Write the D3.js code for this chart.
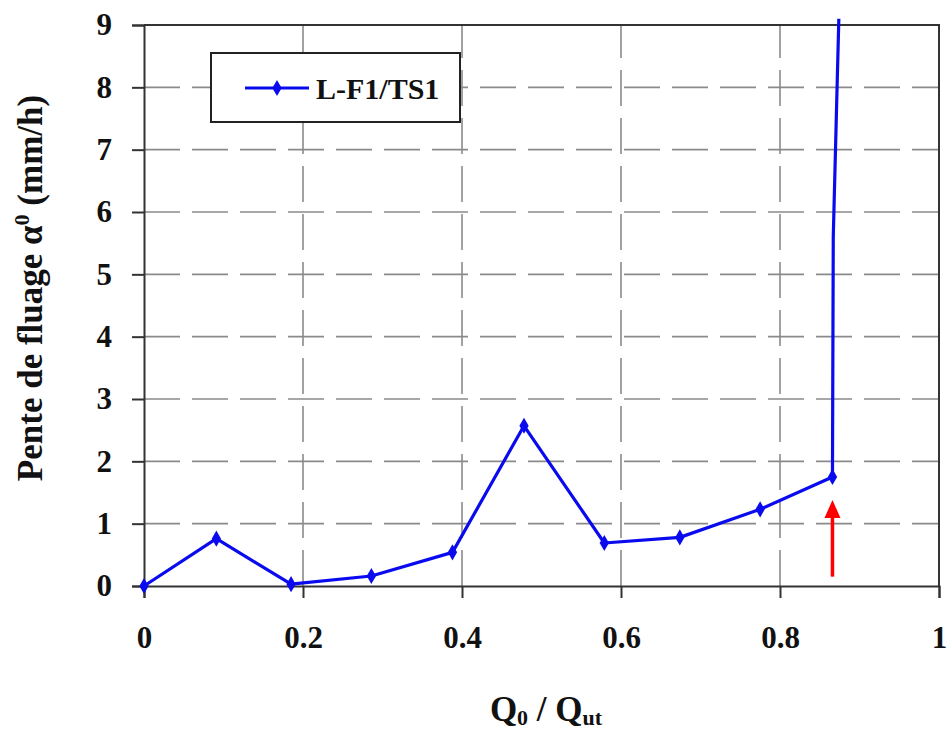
<!DOCTYPE html>
<html>
<head>
<meta charset="utf-8">
<script src="https://cdn.jsdelivr.net/npm/d3@7"></script>
<style>
  html, body { margin: 0; padding: 0; background: #fff; }
  svg { display: block; }
</style>
</head>
<body>
<svg id="chart" width="949" height="731" font-family="Liberation Serif" font-weight="bold"></svg>
<script>
// ---- data ----
const seriesName = "L-F1/TS1";
const qRatio = [0, 0.091, 0.185, 0.286, 0.388, 0.478, 0.579, 0.674, 0.775, 0.866];
const creepSlope = [0.0, 0.76, 0.03, 0.16, 0.54, 2.57, 0.69, 0.78, 1.23, 1.75];
const tailX = [0.866, 0.867, 0.871, 0.874];   // runaway branch (no markers)
const tailY = [1.75, 5.6, 7.6, 9.1];
const xTicks = [0, 0.2, 0.4, 0.6, 0.8, 1];
const yTicks = [0, 1, 2, 3, 4, 5, 6, 7, 8, 9];
const arrowX = [0.866, 0.866];
const arrowY = [0.15, 1.38];

// ---- layout ----
const FONT = "Liberation Serif";
const svg = d3.select("#chart");
const pL = 144, pR = 939, pT = 25, pB = 586;
const x = d3.scaleLinear().domain([0, 1]).range([pL, pR]);
const y = d3.scaleLinear().domain([0, 9]).range([pB, pT]);

function serif(sel, size) {
  return sel.attr("font-family", FONT).style("font-family", FONT)
    .attr("font-weight", "bold").style("font-weight", "bold")
    .style("font-size", size + "px").attr("fill", "#111");
}

// grid
const grid = svg.append("g").attr("stroke", "#8a8a8a").attr("stroke-width", 1.6)
  .attr("stroke-dasharray", "36,12");
grid.selectAll("line.h").data(yTicks.filter(d => d > 0 && d < 9)).enter().append("line")
  .attr("x1", pL).attr("x2", pR).attr("y1", d => y(d)).attr("y2", d => y(d));
grid.selectAll("line.v").data(xTicks.filter(d => d > 0 && d < 1)).enter().append("line")
  .attr("y1", pB).attr("y2", pT).attr("x1", d => x(d)).attr("x2", d => x(d));

// frame (top/right)
svg.append("path")
  .attr("d", `M${pL},${pT}H${pR}V${pB}`)
  .attr("fill", "none").attr("stroke", "#333").attr("stroke-width", 2);

// axes
const xAxis = d3.axisBottom(x).tickValues(xTicks).tickFormat(d3.format("")).tickSize(12).tickPadding(28);
const yAxis = d3.axisLeft(y).tickValues(yTicks).tickFormat(d3.format("d")).tickSize(12).tickPadding(20);
const gx = svg.append("g").attr("transform", `translate(0,${pB})`).call(xAxis);
const gy = svg.append("g").attr("transform", `translate(${pL},0)`).call(yAxis);
[gx, gy].forEach(g => {
  g.attr("font-family", FONT).attr("font-size", null);
  g.select(".domain").attr("stroke", "#333").attr("stroke-width", 2);
  g.selectAll(".tick line").attr("stroke", "#333").attr("stroke-width", 2);
  serif(g.selectAll(".tick text"), 31);
});

// series line
const line = d3.line().x(d => x(d[0])).y(d => y(d[1]));
const pts = qRatio.map((q, i) => [q, creepSlope[i]]);
const tail = tailX.map((q, i) => [q, tailY[i]]);
const blue = "#0a0aee";
svg.append("path").datum(pts.concat(tail.slice(1)))
  .attr("d", line).attr("fill", "none").attr("stroke", blue)
  .attr("stroke-width", 3.2).attr("stroke-linejoin", "round");

const diamond = d3.symbol().type(d3.symbolDiamond).size(75);
svg.selectAll("path.mk").data(pts).enter().append("path")
  .attr("transform", d => `translate(${x(d[0])},${y(d[1])})`)
  .attr("d", diamond).attr("fill", blue);

// red arrow
const ax = x(arrowX[0]), ay0 = y(arrowY[0]), ay1 = y(arrowY[1]);
svg.append("line").attr("x1", ax).attr("x2", ax).attr("y1", ay0).attr("y2", ay1 + 14)
  .attr("stroke", "#ff0000").attr("stroke-width", 3.5);
svg.append("path").attr("d", `M${ax},${ay1}L${ax - 8},${ay1 + 18}L${ax + 8},${ay1 + 18}Z`)
  .attr("fill", "#ff0000");

// legend
const lg = svg.append("g");
lg.append("rect").attr("x", 211).attr("y", 53).attr("width", 249).attr("height", 69)
  .attr("fill", "#fff").attr("stroke", "#222").attr("stroke-width", 2);
lg.append("line").attr("x1", 245).attr("x2", 309).attr("y1", 88).attr("y2", 88)
  .attr("stroke", blue).attr("stroke-width", 3.2);
lg.append("path").attr("transform", "translate(277,88)").attr("d", diamond).attr("fill", blue);
serif(lg.append("text").attr("x", 316).attr("y", 99), 30).text(seriesName);

// axis titles
const yt = serif(svg.append("text").attr("transform", "translate(42,288) rotate(-90)")
  .attr("text-anchor", "middle"), 35);
yt.append("tspan").text("Pente de fluage ");
yt.append("tspan").text("α");
yt.append("tspan").attr("dy", -13).style("font-size", "22px").text("0");
yt.append("tspan").attr("dy", 13).text(" (mm/h)");

const xt = serif(svg.append("text").attr("x", 546).attr("y", 721)
  .attr("text-anchor", "middle"), 35);
xt.append("tspan").text("Q");
xt.append("tspan").attr("dy", 4).style("font-size", "22px").text("0");
xt.append("tspan").attr("dy", -4).text(" / Q");
xt.append("tspan").attr("dy", 4).style("font-size", "22px").text("ut");
</script>
</body>
</html>
